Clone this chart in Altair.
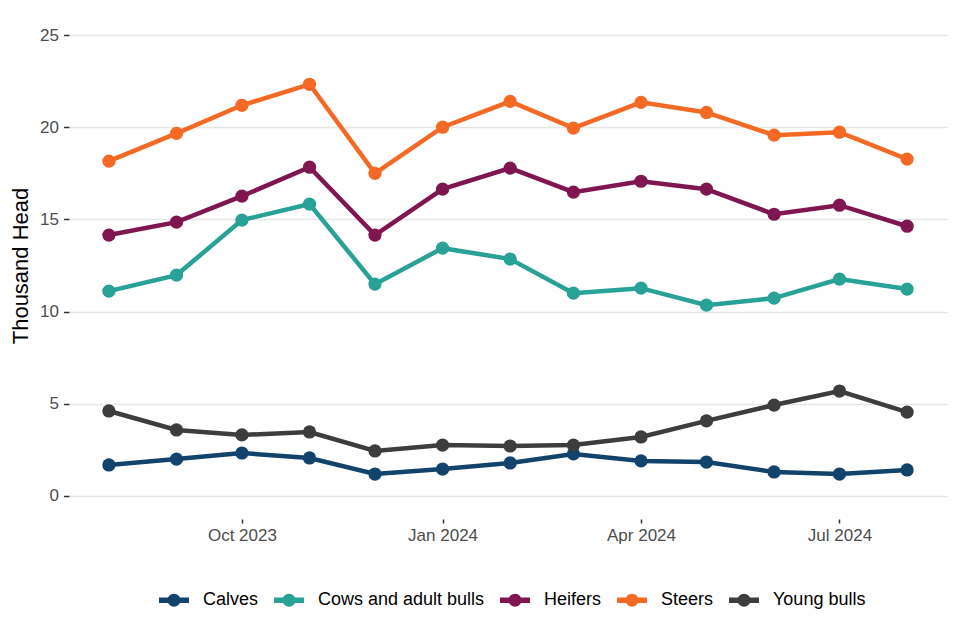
import altair as alt
import pandas as pd

months = ["2023-08-01", "2023-09-01", "2023-10-01", "2023-11-01", "2023-12-01",
          "2024-01-01", "2024-02-01", "2024-03-01", "2024-04-01", "2024-05-01",
          "2024-06-01", "2024-07-01", "2024-08-01"]

calves = [1.68, 2.00, 2.33, 2.06, 1.19, 1.46, 1.79, 2.28, 1.90, 1.84, 1.30, 1.19, 1.41]
cows = [11.11, 11.98, 14.96, 15.83, 11.49, 13.44, 12.85, 11.00, 11.27, 10.35, 10.73, 11.76, 11.22]
heifers = [14.15, 14.85, 16.26, 17.83, 14.15, 16.64, 17.78, 16.48, 17.07, 16.64, 15.28, 15.77, 14.63]
steers = [18.16, 19.67, 21.19, 22.33, 17.50, 20.00, 21.40, 19.95, 21.35, 20.80, 19.57, 19.73, 18.27]
young_bulls = [4.61, 3.58, 3.31, 3.47, 2.44, 2.76, 2.71, 2.76, 3.20, 4.07, 4.93, 5.69, 4.55]

series = {
    "Calves": calves,
    "Cows and adult bulls": cows,
    "Heifers": heifers,
    "Steers": steers,
    "Young bulls": young_bulls,
}
colors = ["#12436D", "#28A197", "#801650", "#F46A25", "#3D3D3D"]

rows = []
for name, vals in series.items():
    for m, v in zip(months, vals):
        rows.append({"date": m, "category": name, "value": v})
df = pd.DataFrame(rows)

legend_path = "M-1,0 L1,0 M-0.25,0 A0.25,0.25 0 1,1 0.25,0 A0.25,0.25 0 1,1 -0.25,0 Z"

x_enc = alt.X(
    "date:T",
    title=None,
    scale=alt.Scale(
        type="utc",
        domain=[alt.DateTime(year=2023, month=7, date=13, hours=17, utc=True),
                alt.DateTime(year=2024, month=8, date=19, hours=7, utc=True)],
        nice=False,
    ),
    axis=alt.Axis(
        values=[alt.DateTime(year=2023, month=10, date=1, utc=True),
                alt.DateTime(year=2024, month=1, date=1, utc=True),
                alt.DateTime(year=2024, month=4, date=1, utc=True),
                alt.DateTime(year=2024, month=7, date=1, utc=True)],
        labelExpr="utcFormat(datum.value, '%b %Y')",
        grid=False,
        domain=False,
        ticks=True,
        tickSize=4,
        tickWidth=1.5,
        tickColor="#333333",
        labelPadding=4,
    ),
)
y_enc = alt.Y(
    "value:Q",
    title="Thousand Head",
    scale=alt.Scale(domain=[-1.25, 26.25], nice=False, zero=False),
    axis=alt.Axis(
        values=[0, 5, 10, 15, 20, 25],
        grid=True,
        gridColor="#E6E6E6",
        gridWidth=1.6,
        domain=False,
        tickSize=5.5,
        tickWidth=1.5,
        tickColor="#333333",
        labelPadding=5,
        titlePadding=7,
    ),
)
color_enc = alt.Color(
    "category:N",
    title=None,
    scale=alt.Scale(domain=list(series.keys()), range=colors),
    legend=alt.Legend(
        orient="none",
        legendX=87,
        legendY=570,
        direction="horizontal",
        symbolType=legend_path,
        symbolSize=900,
        symbolStrokeWidth=5.5,
        labelFontSize=18,
        labelColor="#000000",
        labelFont="Liberation Sans",
        labelLimit=400,
        labelOffset=11,
        columnPadding=4,
        padding=0,
    ),
)

base = alt.Chart(df).encode(x=x_enc, y=y_enc, color=color_enc)
lines = base.mark_line(strokeWidth=4.5)
points = base.mark_circle(size=175, opacity=1)

chart = (
    alt.layer(lines, points)
    .properties(
        width=878,
        height=507,
        background="white",
        autosize=alt.AutoSizeParams(type="none"),
        padding={"left": 61, "top": 4, "right": 5, "bottom": 113},
    )
    .configure_view(stroke=None)
    .configure_axis(
        labelFont="Liberation Sans",
        labelFontSize=17,
        labelColor="#4D4D4D",
        titleFont="Liberation Sans",
        titleFontSize=22,
        titleFontWeight="normal",
        titleColor="#000000",
    )
)

chart.save("out.html", embed_options={"renderer": "svg", "actions": False})
